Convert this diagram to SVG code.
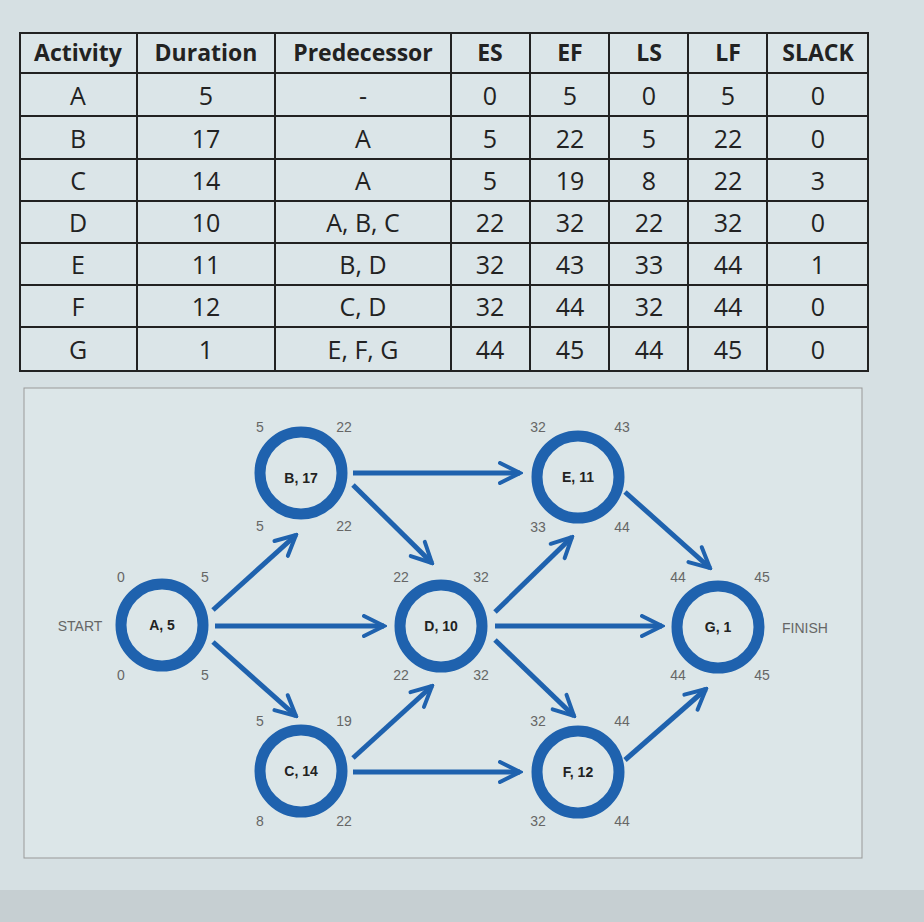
<svg xmlns="http://www.w3.org/2000/svg" width="924" height="922" viewBox="0 0 924 922">
<defs>
<marker id="ah" viewBox="0 0 10 10" refX="9" refY="5" markerWidth="5" markerHeight="5" orient="auto" markerUnits="strokeWidth"><path d="M1,1 L9,5 L1,9" fill="none" stroke="#1f62ae" stroke-width="1.6" stroke-linecap="round"/></marker>
</defs>
<style>
.t{font-family:"Open Sans","Liberation Sans",sans-serif;font-size:25px;fill:#222;text-anchor:middle}
.h{font-family:"Open Sans","Liberation Sans",sans-serif;font-size:23px;font-weight:bold;fill:#222;text-anchor:middle}
.g line{stroke:#222;stroke-width:2}
.n circle{fill:none;stroke:#1f62ae;stroke-width:11}
.n text{font-family:"Liberation Sans",sans-serif;font-size:14px;font-weight:bold;fill:#222;text-anchor:middle}
.s, .n text.s{font-family:"Liberation Sans",sans-serif;font-size:14px;font-weight:normal;fill:#666;text-anchor:middle}
#conn line{stroke:#1f62ae;stroke-width:5;marker-end:url(#ah)}
</style>
<rect width="924" height="922" fill="#d6e0e3"/>
<rect x="0" y="890" width="924" height="32" fill="#c6cfd2"/>
<g id="table">
<rect x="20" y="33" width="848" height="338" fill="#dbe5e8" stroke="#222" stroke-width="2"/>
<g class="g">
<line x1="20" y1="73" x2="868" y2="73" stroke-width="3"/>
<line x1="20" y1="116" x2="868" y2="116"/><line x1="20" y1="159" x2="868" y2="159"/>
<line x1="20" y1="201" x2="868" y2="201"/><line x1="20" y1="243" x2="868" y2="243"/>
<line x1="20" y1="285" x2="868" y2="285"/><line x1="20" y1="327" x2="868" y2="327"/>
<line x1="20" y1="371" x2="868" y2="371" stroke-width="3"/>
<line x1="137" y1="33" x2="137" y2="371"/><line x1="275" y1="33" x2="275" y2="371"/>
<line x1="451" y1="33" x2="451" y2="371" stroke-width="3"/><line x1="530" y1="33" x2="530" y2="371"/>
<line x1="609" y1="33" x2="609" y2="371"/><line x1="688" y1="33" x2="688" y2="371"/>
<line x1="767" y1="33" x2="767" y2="371"/>
</g>
<g class="h"><text x="78" y="61">Activity</text><text x="206" y="61">Duration</text><text x="363" y="61">Predecessor</text><text x="490" y="61">ES</text><text x="570" y="61">EF</text><text x="649" y="61">LS</text><text x="728" y="61">LF</text><text x="818" y="61">SLACK</text></g>
<g class="t">
<text x="78" y="105">A</text><text x="206" y="105">5</text><text x="363" y="105">-</text><text x="490" y="105">0</text><text x="570" y="105">5</text><text x="649" y="105">0</text><text x="728" y="105">5</text><text x="818" y="105">0</text>
<text x="78" y="148">B</text><text x="206" y="148">17</text><text x="363" y="148">A</text><text x="490" y="148">5</text><text x="570" y="148">22</text><text x="649" y="148">5</text><text x="728" y="148">22</text><text x="818" y="148">0</text>
<text x="78" y="190">C</text><text x="206" y="190">14</text><text x="363" y="190">A</text><text x="490" y="190">5</text><text x="570" y="190">19</text><text x="649" y="190">8</text><text x="728" y="190">22</text><text x="818" y="190">3</text>
<text x="78" y="232">D</text><text x="206" y="232">10</text><text x="363" y="232">A, B, C</text><text x="490" y="232">22</text><text x="570" y="232">32</text><text x="649" y="232">22</text><text x="728" y="232">32</text><text x="818" y="232">0</text>
<text x="78" y="274">E</text><text x="206" y="274">11</text><text x="363" y="274">B, D</text><text x="490" y="274">32</text><text x="570" y="274">43</text><text x="649" y="274">33</text><text x="728" y="274">44</text><text x="818" y="274">1</text>
<text x="78" y="316">F</text><text x="206" y="316">12</text><text x="363" y="316">C, D</text><text x="490" y="316">32</text><text x="570" y="316">44</text><text x="649" y="316">32</text><text x="728" y="316">44</text><text x="818" y="316">0</text>
<text x="78" y="359">G</text><text x="206" y="359">1</text><text x="363" y="359">E, F, G</text><text x="490" y="359">44</text><text x="570" y="359">45</text><text x="649" y="359">44</text><text x="728" y="359">45</text><text x="818" y="359">0</text>
</g>
</g>
<rect x="24" y="388" width="838" height="470" fill="#dce6e8" stroke="#999" stroke-width="1"/>
<g id="conn">
<line x1="213" y1="610" x2="296" y2="535"/>
<line x1="215" y1="626" x2="384" y2="626"/>
<line x1="213" y1="642" x2="296" y2="716"/>
<line x1="353" y1="473" x2="520" y2="473"/>
<line x1="353" y1="485" x2="432" y2="563"/>
<line x1="353" y1="758" x2="432" y2="686"/>
<line x1="353" y1="772" x2="520" y2="772"/>
<line x1="495" y1="612" x2="572" y2="537"/>
<line x1="495" y1="626" x2="662" y2="626"/>
<line x1="495" y1="640" x2="574" y2="716"/>
<line x1="625" y1="492" x2="710" y2="568"/>
<line x1="625" y1="760" x2="706" y2="689"/>
</g>
<text class="s" x="80" y="631">START</text>
<text class="s" x="805" y="633">FINISH</text>
<g id="A" class="n"><circle cx="162" cy="625" r="41"/><text x="162" y="630">A, 5</text><text class="s" x="121" y="582">0</text><text class="s" x="205" y="582">5</text><text class="s" x="121" y="680">0</text><text class="s" x="205" y="680">5</text></g>
<g id="B" class="n"><circle cx="301" cy="473" r="41"/><text x="301" y="483">B, 17</text><text class="s" x="260" y="432">5</text><text class="s" x="344" y="432">22</text><text class="s" x="260" y="531">5</text><text class="s" x="344" y="531">22</text></g>
<g id="C" class="n"><circle cx="301" cy="771" r="41"/><text x="301" y="776">C, 14</text><text class="s" x="260" y="726">5</text><text class="s" x="344" y="726">19</text><text class="s" x="260" y="826">8</text><text class="s" x="344" y="826">22</text></g>
<g id="D" class="n"><circle cx="441" cy="626" r="41"/><text x="441" y="631">D, 10</text><text class="s" x="401" y="582">22</text><text class="s" x="481" y="582">32</text><text class="s" x="401" y="680">22</text><text class="s" x="481" y="680">32</text></g>
<g id="E" class="n"><circle cx="578" cy="477" r="41"/><text x="578" y="482">E, 11</text><text class="s" x="538" y="432">32</text><text class="s" x="622" y="432">43</text><text class="s" x="538" y="532">33</text><text class="s" x="622" y="532">44</text></g>
<g id="F" class="n"><circle cx="578" cy="772" r="41"/><text x="578" y="777">F, 12</text><text class="s" x="538" y="726">32</text><text class="s" x="622" y="726">44</text><text class="s" x="538" y="826">32</text><text class="s" x="622" y="826">44</text></g>
<g id="G" class="n"><circle cx="718" cy="627" r="41"/><text x="718" y="632">G, 1</text><text class="s" x="678" y="582">44</text><text class="s" x="762" y="582">45</text><text class="s" x="678" y="680">44</text><text class="s" x="762" y="680">45</text></g>
</svg>
